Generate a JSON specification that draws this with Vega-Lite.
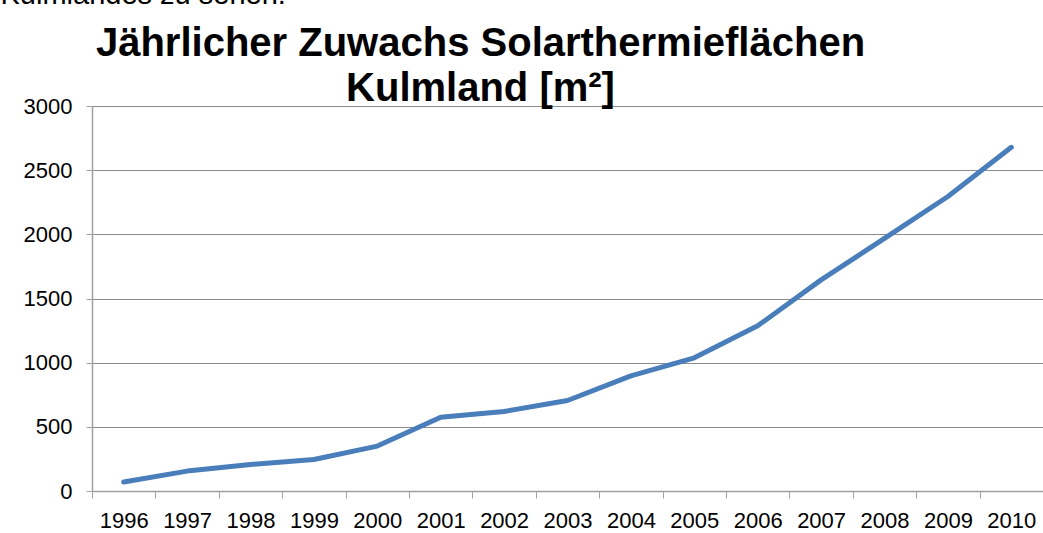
{
  "$schema": "https://vega.github.io/schema/vega-lite/v6.json",
  "width": 951,
  "height": 385,
  "autosize": {"type": "none"},
  "padding": {"left": 92, "top": 106, "right": 0, "bottom": 42},
  "background": "white",
  "data": {
    "values": [
      {"Jahr": "1996", "Flaeche": 70},
      {"Jahr": "1997", "Flaeche": 155},
      {"Jahr": "1998", "Flaeche": 207},
      {"Jahr": "1999", "Flaeche": 245},
      {"Jahr": "2000", "Flaeche": 350},
      {"Jahr": "2001", "Flaeche": 575},
      {"Jahr": "2002", "Flaeche": 620},
      {"Jahr": "2003", "Flaeche": 705},
      {"Jahr": "2004", "Flaeche": 897},
      {"Jahr": "2005", "Flaeche": 1038},
      {"Jahr": "2006", "Flaeche": 1287},
      {"Jahr": "2007", "Flaeche": 1645},
      {"Jahr": "2008", "Flaeche": 1968},
      {"Jahr": "2009", "Flaeche": 2295},
      {"Jahr": "2010", "Flaeche": 2678}
    ]
  },
  "mark": {"type": "line", "color": "#4A7EBB", "strokeWidth": 5, "strokeCap": "round", "strokeJoin": "round"},
  "encoding": {
    "x": {
      "field": "Jahr",
      "type": "ordinal",
      "scale": {"type": "band", "paddingInner": 0, "paddingOuter": 0},
      "axis": {
        "title": ["Jährlicher Zuwachs Solarthermieflächen", "Kulmland [m²]"],
        "titleX": 388,
        "titleY": -436,
        "titleAlign": "center",
        "titleAnchor": null,
        "titleBaseline": "alphabetic",
        "titleLineHeight": 45,
        "titleFont": "Liberation Sans",
        "titleFontSize": 40,
        "titleFontWeight": "bold",
        "titleColor": "#000000",
        "labelAngle": 0,
        "labelFont": "Liberation Sans",
        "labelFontSize": 22,
        "labelColor": "#000000",
        "labelBaseline": "alphabetic",
        "labelPadding": 29,
        "tickBand": "extent",
        "tickSize": 7,
        "tickColor": "#A0A0A0",
        "domainColor": "#A0A0A0",
        "domainWidth": 1.5,
        "grid": false
      }
    },
    "y": {
      "field": "Flaeche",
      "type": "quantitative",
      "scale": {"domain": [0, 3000], "nice": false},
      "axis": {
        "values": [0, 500, 1000, 1500, 2000, 2500, 3000],
        "format": "d",
        "title": "Kulmlandes zu sehen.",
        "titleAngle": 0,
        "titleX": -92,
        "titleY": -103,
        "titleAlign": "left",
        "titleBaseline": "alphabetic",
        "titleFont": "Liberation Sans",
        "titleFontSize": 29,
        "titleFontWeight": "normal",
        "titleColor": "#000000",
        "labelFont": "Liberation Sans",
        "labelFontSize": 22,
        "labelColor": "#000000",
        "labelPadding": 14,
        "tickSize": 6,
        "tickColor": "#A0A0A0",
        "domainColor": "#A0A0A0",
        "domainWidth": 1.5,
        "grid": true,
        "gridColor": "#8C8C8C",
        "gridWidth": 1.2
      }
    }
  },
  "config": {"view": {"stroke": null}}
}
